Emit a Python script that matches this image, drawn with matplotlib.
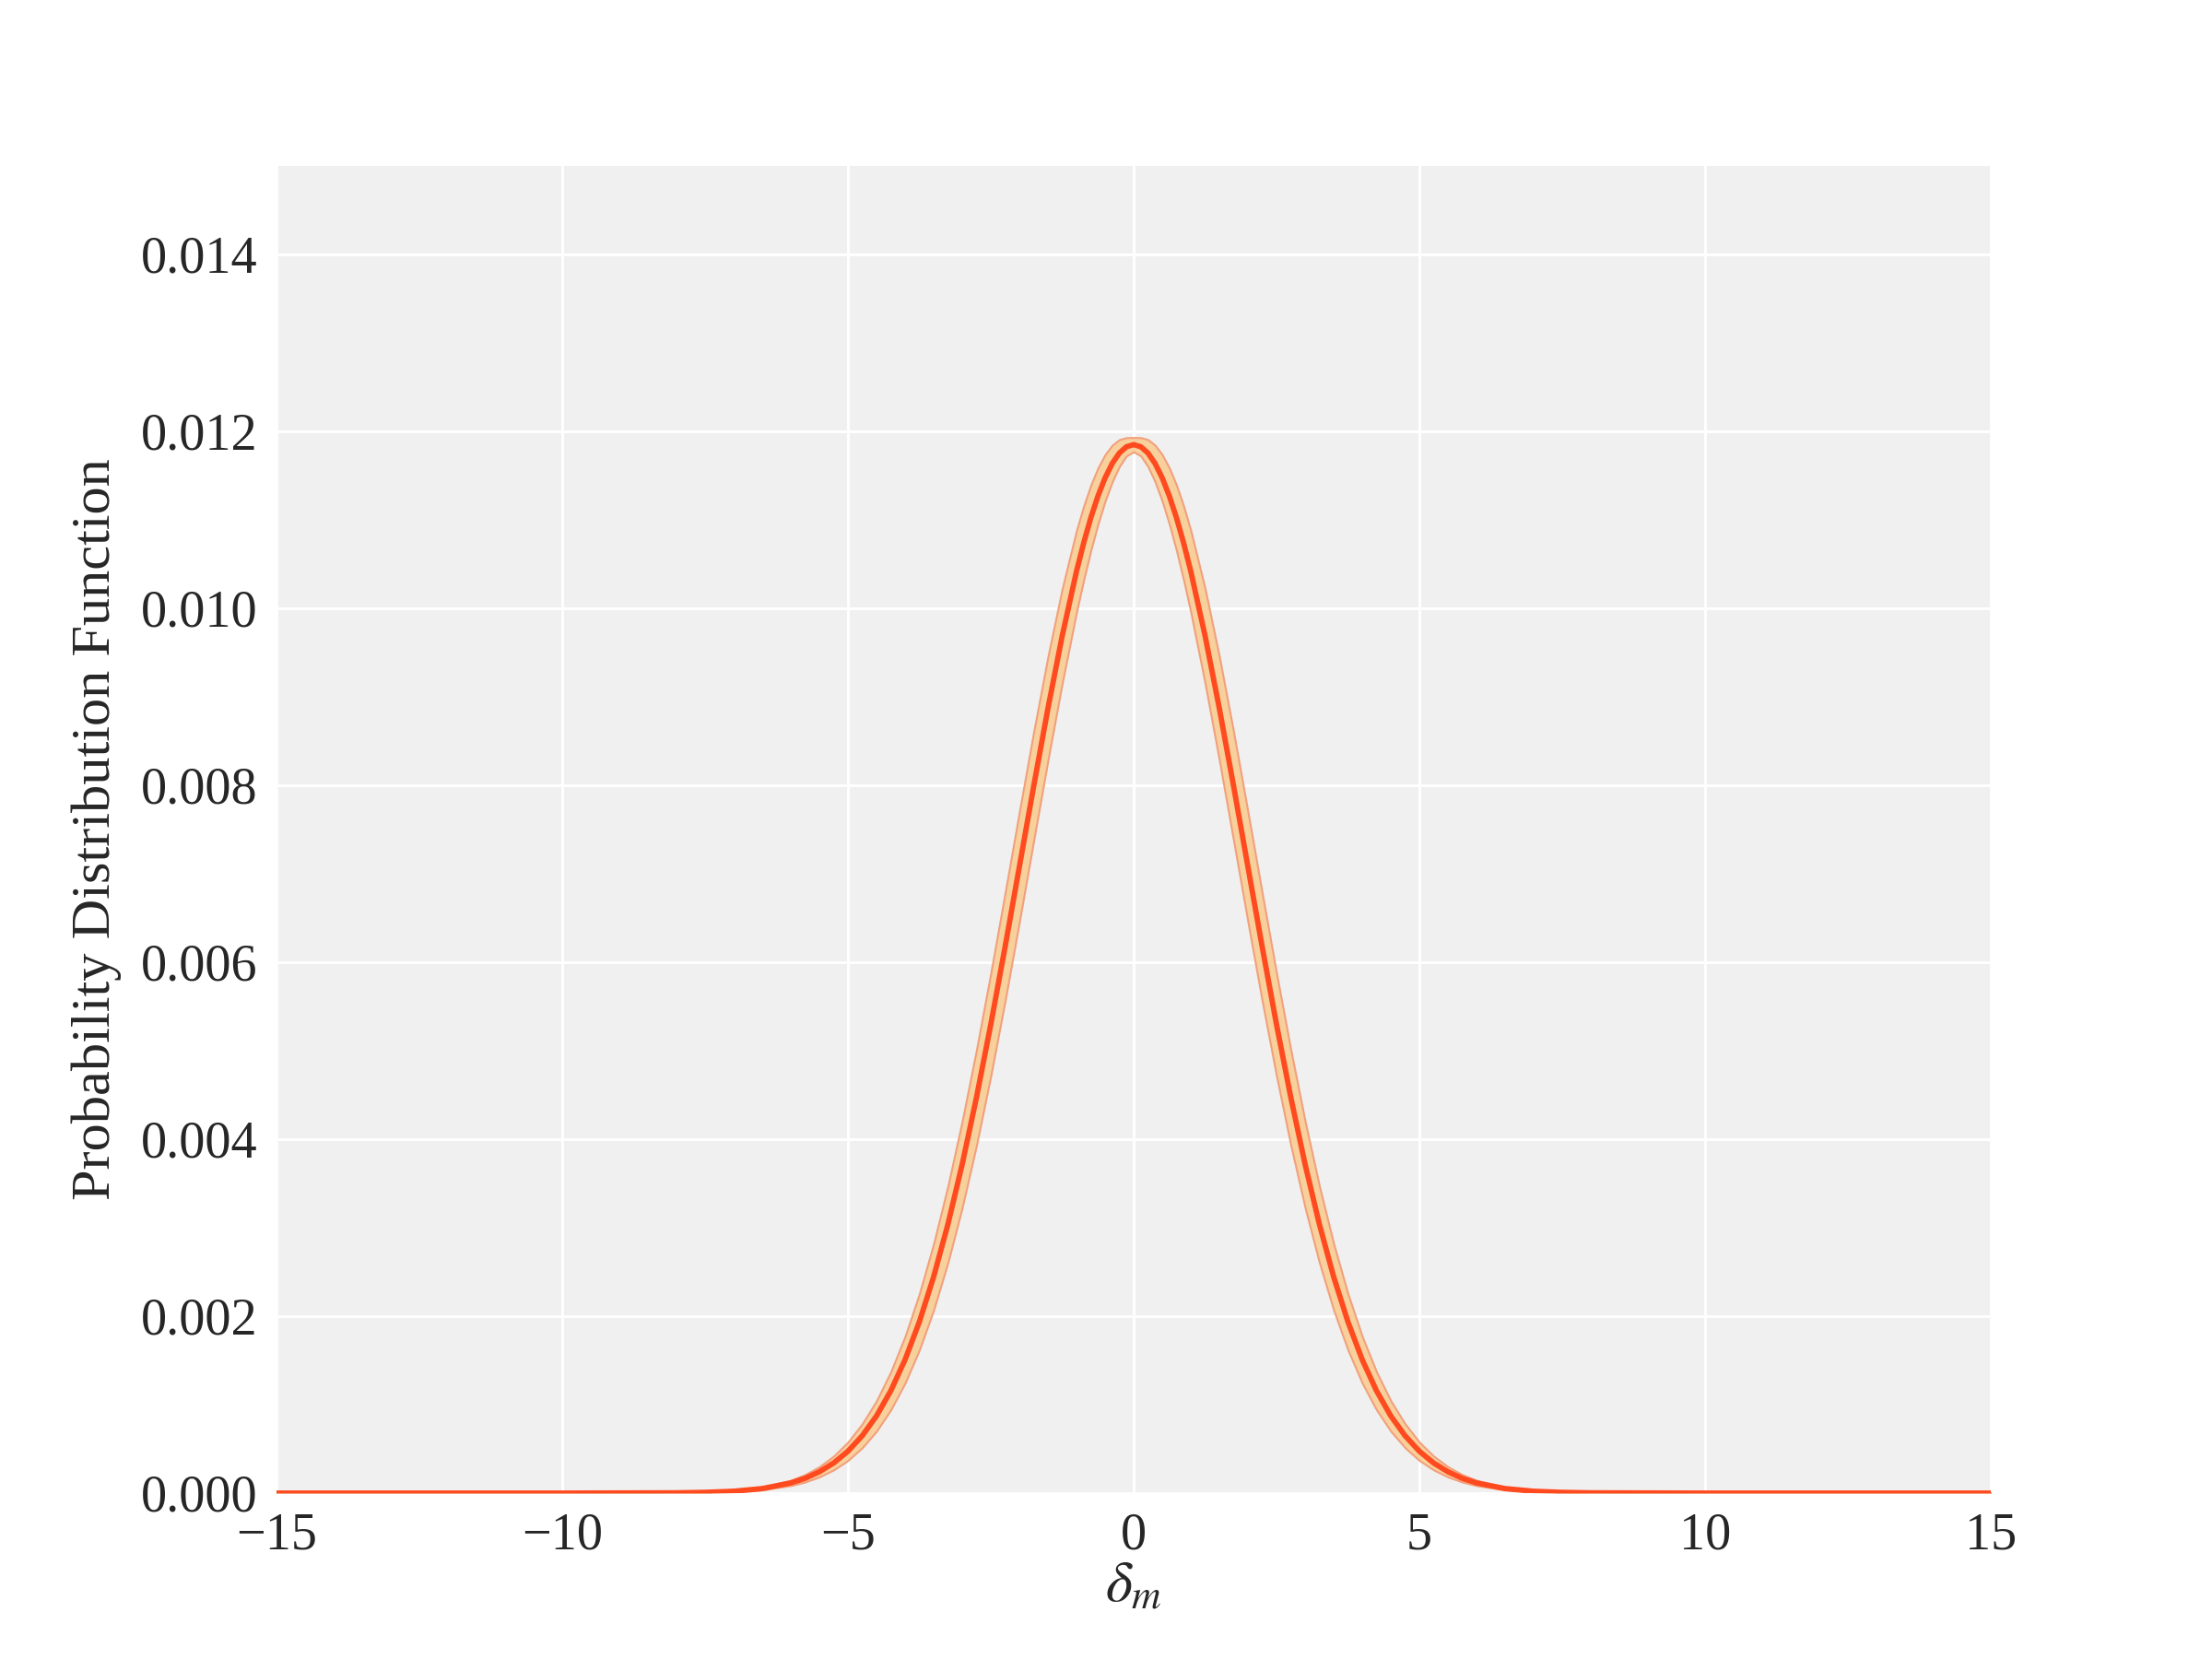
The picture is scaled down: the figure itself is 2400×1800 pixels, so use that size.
import numpy as np
import matplotlib
matplotlib.use('Agg')
import matplotlib.pyplot as plt

## values
## delta_m positions (right half, mirrored for the left half)
x_half = [0.0, 0.125, 0.25, 0.375, 0.5, 0.625, 0.75, 0.875, 1.0, 1.25, 1.5,
	1.75, 2.0, 2.25, 2.5, 2.75, 3.0, 3.25, 3.5, 3.75, 4.0, 4.25, 4.5, 4.75,
	5.0, 5.25, 5.5, 5.75, 6.0, 6.5, 7.0, 7.5, 8.0, 10.0, 15.0]
## centre curve (pdf)
pdf_half = [0.011850, 0.011826, 0.011755, 0.011637, 0.011474, 0.011268,
	0.011022, 0.010737, 0.010418, 0.009689, 0.008868, 0.007987, 0.007078,
	0.006172, 0.005297, 0.004473, 0.003717, 0.003039, 0.002445, 0.001936,
	0.001508, 0.001156, 0.000872, 0.000648, 0.000473, 0.000340, 0.000241,
	0.000167, 0.000115, 0.000051, 0.000021, 0.0000084, 0.0000031, 0.0, 0.0]
## half width of the shaded band
band_half = [0.000081, 0.000103, 0.000152, 0.000207, 0.000263, 0.000318,
	0.000370, 0.000418, 0.000462, 0.000535, 0.000586, 0.000615, 0.000622,
	0.000610, 0.000581, 0.000540, 0.000489, 0.000433, 0.000375, 0.000318,
	0.000264, 0.000215, 0.000172, 0.000135, 0.000104, 0.000078, 0.000058,
	0.000042, 0.000030, 0.0000145, 0.0000064, 0.0000028, 0.000001, 0.0, 0.0]

yticks = [0.000, 0.002, 0.004, 0.006, 0.008, 0.010, 0.012, 0.014]
xticks = [-15, -10, -5, 0, 5, 10, 15]

## build the full symmetric arrays
x = np.concatenate([-np.array(x_half[:0:-1]), np.array(x_half)])
pdf = np.concatenate([np.array(pdf_half[:0:-1]), np.array(pdf_half)])
band = np.concatenate([np.array(band_half[:0:-1]), np.array(band_half)])

plt.rcParams['font.family'] = ['Liberation Serif', 'DejaVu Serif']
plt.rcParams['mathtext.fontset'] = 'stix'

fig, ax = plt.subplots(figsize=(8, 6), dpi=300)
fig.subplots_adjust(left=0.125, right=0.9, bottom=0.1, top=0.9)
ax.set_facecolor('#f0f0f0')
for s in ax.spines.values():
	s.set_visible(False)
ax.grid(True, color='white', lw=0.7)
ax.set_axisbelow(True)

ax.fill_between(x, pdf - band, pdf + band, facecolor='#f8d09c',
	edgecolor='#f2a07c', lw=0.5, zorder=2)
ax.plot(x, pdf, color='#ff4a20', lw=1.4, zorder=3)

ax.set_xlim(-15, 15)
ax.set_ylim(0, 0.015)
ax.set_xticks(xticks)
ax.set_yticks(yticks)
ax.set_yticklabels(['%.3f' % v for v in yticks])
ax.tick_params(length=0, pad=5, labelsize=13.5, colors='#262626')
ax.set_xlabel(r'$\delta_m$', fontsize=15, color='#262626', labelpad=0)
ax.set_ylabel('Probability Distribution Function', fontsize=14.5,
	color='#262626', labelpad=5)

plt.savefig('out.png', dpi=300)
